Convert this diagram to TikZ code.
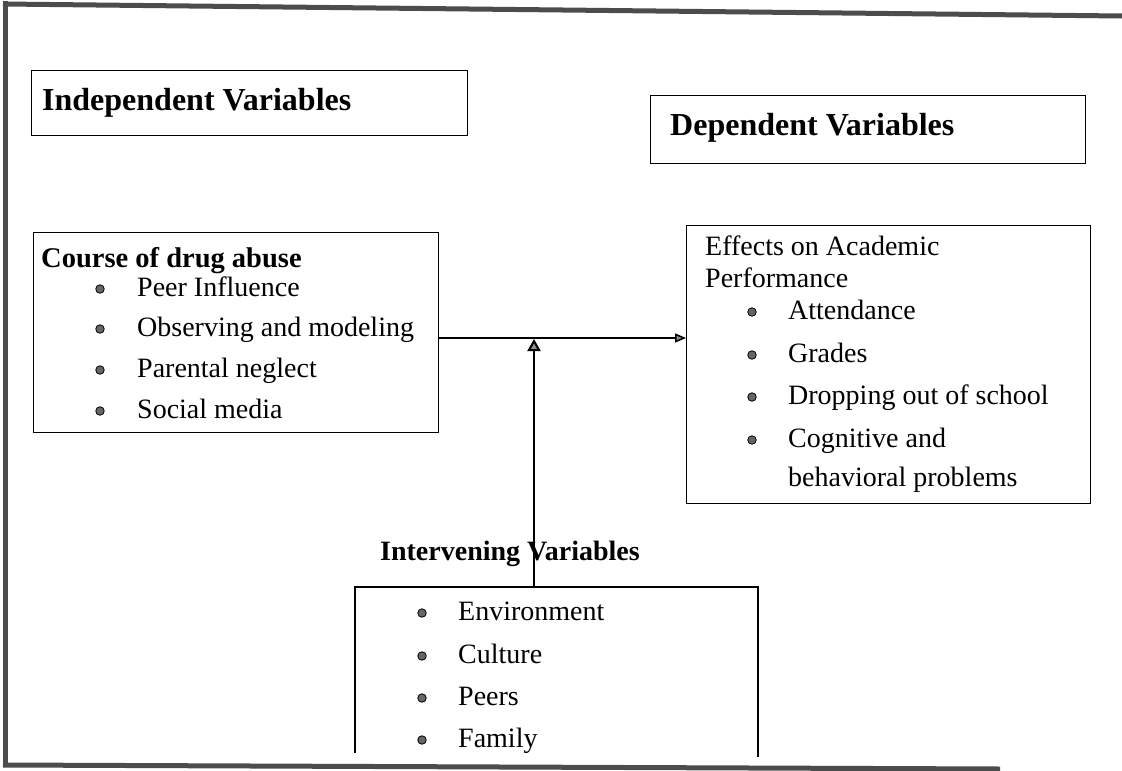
\documentclass[tikz,border=0pt]{standalone}
\usepackage{fontspec}
\setmainfont{Liberation Serif}
\usetikzlibrary{arrows.meta}
\begin{document}
\begin{tikzpicture}[x=1pt,y=-1pt,
  frameline/.style={draw=black!70, line width=5pt},
  boxline/.style={draw=black, line width=1.4pt},
  box/.style={boxline, anchor=north west, inner sep=0pt, rectangle},
  head/.style={anchor=base west, inner sep=0pt, font=\fontsize{32}{38}\selectfont\bfseries},
  sub/.style={anchor=base west, inner sep=0pt, font=\fontsize{28.5}{34}\selectfont\bfseries},
  txt/.style={anchor=base west, inner sep=0pt, font=\fontsize{28}{34}\selectfont},
  bul/.style={circle, draw=black, line width=0.8pt, fill=black!60, inner sep=0pt, minimum size=8.5pt},
  conn/.style={draw=black, line width=1.5pt, -{Triangle[length=11pt,width=9pt,fill=black!45]}},
  vconn/.style={draw=black, line width=2pt, -{Triangle[length=12pt,width=13pt,fill=black!45]}}
]
\useasboundingbox (0,0) rectangle (1122,771);
% outer frame (scanned page border)
\draw[frameline] (5,1) -- (5,767);
\draw[frameline] (3,4) -- (1122,16);
\draw[frameline] (3,765) -- (1000,769);

% headings
\node[box, minimum width=436pt, minimum height=65pt] (ivbox) at (31,70) {};
\node[head] (ivtxt) at (42,110) {Independent Variables};
\node[box, minimum width=435pt, minimum height=68pt] (dvbox) at (650,95) {};
\node[head] (dvtxt) at (670,135) {Dependent Variables};

% course of drug abuse
\node[box, minimum width=405pt, minimum height=200pt] (course) at (33,232) {};
\node[sub] (coursetitle) at (41,267) {Course of drug abuse};
\node[bul] (cb1) at (100,289) {};
\node[txt] (ct1) at (137,296) {Peer Influence};
\node[bul] (cb2) at (100,329) {};
\node[txt] (ct2) at (137,336) {Observing and modeling};
\node[bul] (cb3) at (100,370) {};
\node[txt] (ct3) at (137,377) {Parental neglect};
\node[bul] (cb4) at (100,411) {};
\node[txt] (ct4) at (137,418) {Social media};

% effects on academic performance
\node[box, minimum width=404pt, minimum height=278pt] (effects) at (686,225) {};
\node[txt] (et0) at (705,255) {Effects on Academic};
\node[txt] (et0b) at (705,287) {Performance};
\node[bul] (eb1) at (752,312) {};
\node[txt] (et1) at (788,319) {Attendance};
\node[bul] (eb2) at (752,355) {};
\node[txt] (et2) at (788,362) {Grades};
\node[bul] (eb3) at (752,397) {};
\node[txt] (et3) at (788,404) {Dropping out of school};
\node[bul] (eb4) at (752,440) {};
\node[txt] (et4) at (788,447) {Cognitive and};
\node[txt] (et5) at (788,486) {behavioral problems};

% intervening variables
\node[sub, font=\fontsize{28}{34}\selectfont\bfseries] (ivlabel) at (380,560) {Intervening Variables};
\coordinate (ibtl) at (355,587);
\coordinate (ibtr) at (758,587);
\draw[boxline] (355,753) -- (ibtl) -- (ibtr) -- (758,757);
\node[bul] (ib1) at (422,613) {};
\node[txt] (it1) at (458,620) {Environment};
\node[bul] (ib2) at (422,656) {};
\node[txt] (it2) at (458,663) {Culture};
\node[bul] (ib3) at (422,698) {};
\node[txt] (it3) at (458,705) {Peers};
\node[bul] (ib4) at (422,740) {};
\node[txt] (it4) at (458,747) {Family};

% connectors
\coordinate (hstart) at (course.east |- 0,338);
\coordinate (hend) at (effects.west |- 0,338);
\draw[conn] (hstart) -- (hend);
\coordinate (vstart) at (534,587);
\coordinate (vend) at (534,339);
\draw[vconn] (vstart) -- (vend);
\end{tikzpicture}
\end{document}
